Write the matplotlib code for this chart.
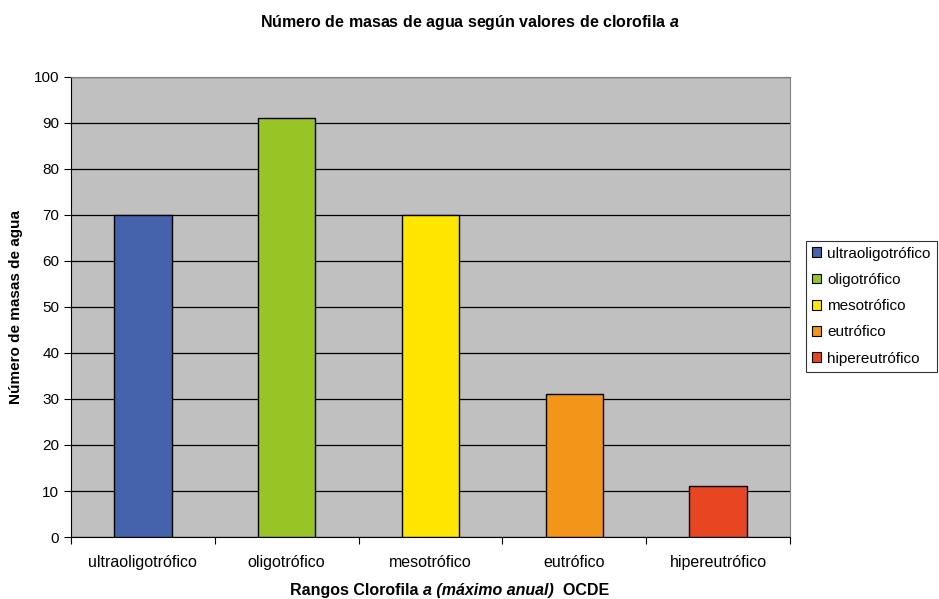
import matplotlib
matplotlib.use('Agg')
import matplotlib.pyplot as plt
from matplotlib.patches import Patch

plt.rcParams['font.family'] = ['Liberation Sans', 'DejaVu Sans']
plt.rcParams['mathtext.fontset'] = 'custom'
plt.rcParams['mathtext.it'] = 'Liberation Sans:italic:bold'
plt.rcParams['mathtext.rm'] = 'Liberation Sans:bold'

# datos
categorias = ['ultraoligotrófico', 'oligotrófico', 'mesotrófico', 'eutrófico', 'hipereutrófico']
valores = [70, 91, 70, 31, 11]
colores = ['#4563AC', '#98C425', '#FFE600', '#F39519', '#E84622']
yticks = list(range(0, 101, 10))

fig = plt.figure(figsize=(9.39, 5.99), dpi=100)
ax = fig.add_axes([0.0756, 0.1035, 0.7657, 0.768])
ax.set_facecolor('#C0C0C0')

x = range(len(categorias))
ax.bar(x, valores, width=0.4, color=colores, edgecolor='black', linewidth=1, zorder=3)

ax.set_xlim(-0.5, len(categorias) - 0.5)
ax.set_ylim(0, 100)
ax.set_yticks(yticks)
ax.yaxis.grid(True, color='black', linewidth=0.9, zorder=0)
ax.set_axisbelow(True)

# ticks del eje x entre categorias
ax.set_xticks([i - 0.5 for i in range(len(categorias) + 1)])
ax.set_xticklabels([])
ax.set_xticks(list(x), minor=True)
ax.set_xticklabels(categorias, minor=True, fontsize=11.5)
ax.tick_params(axis='x', which='minor', length=0, pad=13)
ax.tick_params(axis='x', which='major', length=5, direction='out', color='black')
ax.tick_params(axis='y', length=5, direction='out', labelsize=11)

for s in ['top', 'right']:
    ax.spines[s].set_color('#808080')
for s in ['left', 'bottom']:
    ax.spines[s].set_color('black')

ax.set_ylabel('Número de masas de agua', fontsize=11, fontweight='bold', labelpad=8)

# titulo del eje x en tres partes (la del medio en cursiva)
t1 = fig.text(0.309, 0.015, 'Rangos Clorofila ', ha='left', va='center',
              fontsize=11.5, fontweight='bold')
t2 = ax.annotate('a (máximo anual)', xy=(1, 0), xycoords=t1, ha='left', va='bottom',
                 fontsize=11.5, fontweight='bold', style='italic', annotation_clip=False)
t3 = ax.annotate('  OCDE', xy=(1, 0), xycoords=t2, ha='left', va='bottom',
                 fontsize=11.5, fontweight='bold', annotation_clip=False)

fig.text(0.5, 0.963, r'Número de masas de agua según valores de clorofila $a$',
         ha='center', va='center', fontsize=11.5, fontweight='bold')

handles = [Patch(facecolor=c, edgecolor='black', linewidth=0.8) for c in colores]
leg = fig.legend(handles, categorias, loc='center left', bbox_to_anchor=(0.858, 0.489),
                 frameon=True, fancybox=False, fontsize=11, handlelength=0.6,
                 handleheight=0.6, handletextpad=0.4, labelspacing=0.8,
                 borderpad=0.4, borderaxespad=0)
leg.get_frame().set_edgecolor('black')
leg.get_frame().set_linewidth(0.8)

fig.savefig('out.png', dpi=100)
